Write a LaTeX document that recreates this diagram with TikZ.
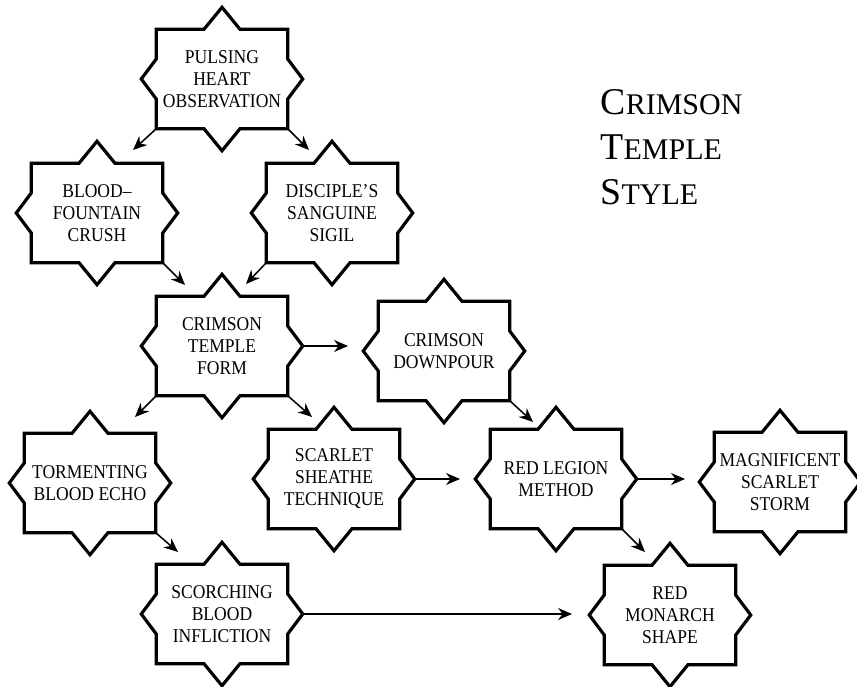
\documentclass[tikz,border=0pt]{standalone}
\usepackage{fontspec}
\setmainfont{Liberation Serif}
\newfontfamily\boxfont{Liberation Serif}[FakeStretch=0.9]
\usetikzlibrary{arrows.meta}

\tikzset{
  spot/.style={minimum width=131pt,minimum height=99pt,inner sep=0pt,align=center,
    font={\boxfont\fontsize{19.5}{22}\selectfont}},
  frame/.style={line width=3.2pt,line join=miter},
  link/.style={line width=1.5pt,-{Stealth[length=14pt,width=12pt]}}
}

% outline of a box with four spikes, plus its side tips
\newcommand{\starframe}[1]{%
  \draw[frame] (#1.north west) -- ([xshift=-18pt]#1.north) -- ([yshift=22pt]#1.north)
    -- ([xshift=18pt]#1.north) -- (#1.north east) -- ([yshift=20pt]#1.east)
    -- ([xshift=15pt]#1.east) -- ([yshift=-20pt]#1.east) -- (#1.south east)
    -- ([xshift=18pt]#1.south) -- ([yshift=-22pt]#1.south) -- ([xshift=-18pt]#1.south)
    -- (#1.south west) -- ([yshift=-20pt]#1.west) -- ([xshift=-15pt]#1.west)
    -- ([yshift=20pt]#1.west) -- cycle;
  \coordinate (#1-e) at ([xshift=15pt]#1.east);}

\begin{document}
\begin{tikzpicture}[x=1pt,y=-1pt]
  \useasboundingbox (0,0) rectangle (857,687);

  \node[spot] (pulse)    at (222,79)  {PULSING\\HEART\\OBSERVATION};
  \node[spot] (blood)    at (97,213)  {BLOOD–\\FOUNTAIN\\CRUSH};
  \node[spot] (sigil)    at (332,213) {DISCIPLE’S\\SANGUINE\\SIGIL};
  \node[spot] (form)     at (222,346) {CRIMSON\\TEMPLE\\FORM};
  \node[spot] (downpour) at (444,351) {CRIMSON\\DOWNPOUR};
  \node[spot] (echo)     at (90,483)  {TORMENTING\\BLOOD ECHO};
  \node[spot] (sheathe)  at (334,479) {SCARLET\\SHEATHE\\TECHNIQUE};
  \node[spot] (legion)   at (556,479) {RED LEGION\\METHOD};
  \node[spot] (storm)    at (780,482) {MAGNIFICENT\\SCARLET\\STORM};
  \node[spot] (scorch)   at (222,614) {SCORCHING\\BLOOD\\INFLICTION};
  \node[spot] (monarch)  at (670,615) {RED\\MONARCH\\SHAPE};

  \foreach \n in {pulse,blood,sigil,form,downpour,echo,sheathe,legion,storm,scorch,monarch}
    {\starframe{\n}}

  \node[anchor=west,align=left,font={\fontsize{30}{45}\selectfont}] (title) at (597,147)
    {{\fontsize{37.8}{45}\selectfont C}RIMSON\\{\fontsize{37.8}{45}\selectfont T}EMPLE\\{\fontsize{37.8}{45}\selectfont S}TYLE};

  % free arrow ends
  \coordinate (t1) at (133,150);
  \coordinate (t2) at (309,150);
  \coordinate (t3) at (185,285);
  \coordinate (t4) at (246,284);
  \coordinate (t5) at (348,346);
  \coordinate (t6) at (135,417);
  \coordinate (t7) at (312,417);
  \coordinate (t8) at (533,422);
  \coordinate (t9) at (460,479);
  \coordinate (t10) at (685,479);
  \coordinate (t11) at (178,552);
  \coordinate (t12) at (645,552);
  \coordinate (t13) at (572,614);

  \draw[link] (pulse.south west) -- (t1);
  \draw[link] (pulse.south east) -- (t2);
  \draw[link] (blood.south east) -- (t3);
  \draw[link] (sigil.south west) -- (t4);
  \draw[link] (form-e) -- (t5);
  \draw[link] (form.south west) -- (t6);
  \draw[link] (form.south east) -- (t7);
  \draw[link] (downpour.south east) -- (t8);
  \draw[link] (sheathe-e) -- (t9);
  \draw[link] (legion-e) -- (t10);
  \draw[link] (echo.south east) -- (t11);
  \draw[link] (legion.south east) -- (t12);
  \draw[link] (scorch-e) -- (t13);
\end{tikzpicture}
\end{document}
